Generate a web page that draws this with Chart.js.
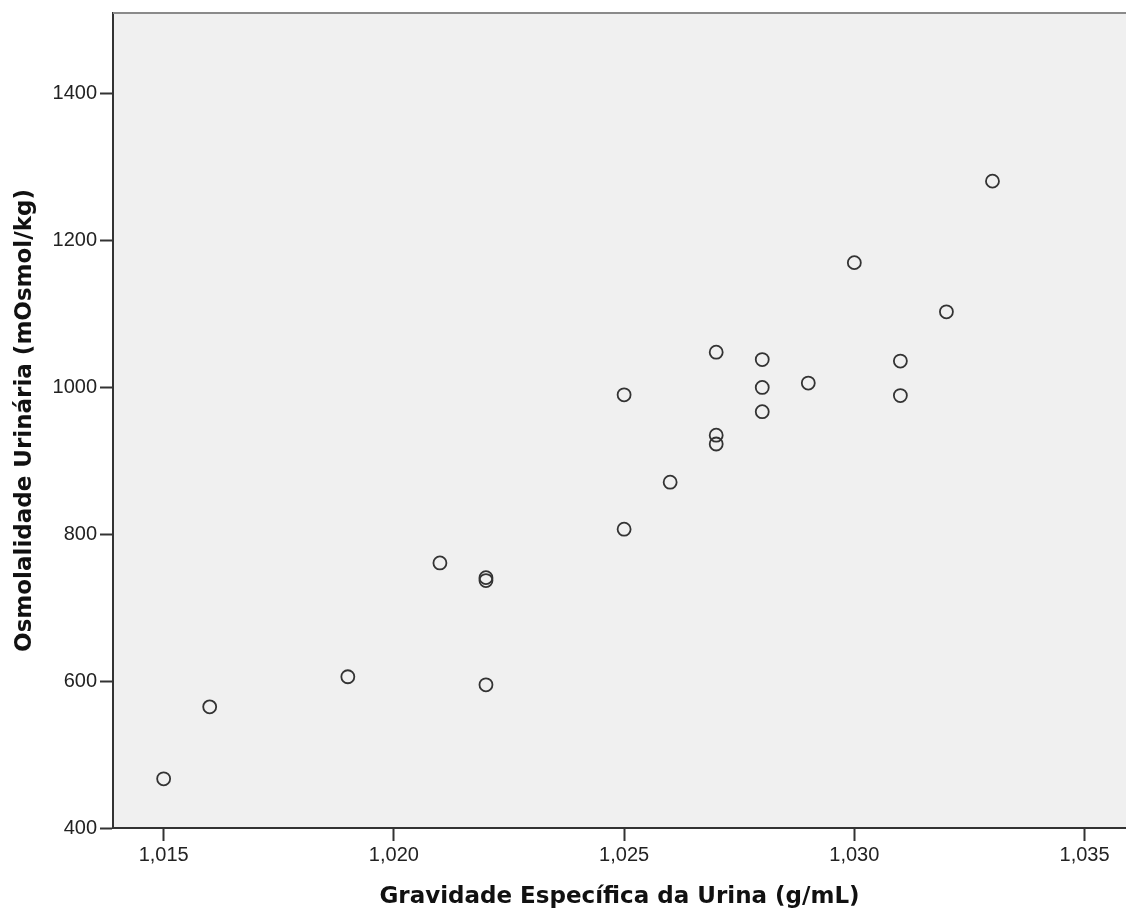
<!DOCTYPE html>
<html>
<head>
<meta charset="utf-8">
<script src="https://cdn.jsdelivr.net/npm/chart.js@4.4.1/dist/chart.umd.min.js"></script>
<style>
  html, body { margin: 0; padding: 0; background: #fff; overflow: hidden; }
  #wrap { width: 1126px; height: 913px; }
  canvas { display: block; }
</style>
</head>
<body>
<div id="wrap"><canvas id="chart" width="1126" height="913"></canvas></div>
<script>
// Urine specific gravity (x) vs urine osmolality (y)
const gravidade = [
  1.015, 1.016, 1.019, 1.021, 1.022, 1.022, 1.022, 1.025, 1.025, 1.026,
  1.027, 1.027, 1.027, 1.028, 1.028, 1.028, 1.029, 1.030, 1.031, 1.031,
  1.032, 1.033,
];
const osmolalidade = [
  467, 565, 606, 761, 741, 737, 595, 990, 807, 871,
  1048, 935, 923, 1038, 1000, 967, 1006, 1170, 1036, 989,
  1103, 1281,
];
const xTicks = [1.015, 1.02, 1.025, 1.03, 1.035];
const yTicks = [400, 600, 800, 1000, 1200, 1400];

const points = gravidade.map((g, i) => ({ x: g, y: osmolalidade[i] }));

const plotBackground = {
  id: "plotBackground",
  beforeDraw(chart) {
    const { ctx, chartArea: a } = chart;
    ctx.save();
    ctx.fillStyle = "#f0f0f0";
    ctx.fillRect(a.left, a.top, a.right - a.left, a.bottom - a.top);
    ctx.restore();
  },
  afterDraw(chart) {
    // gray top frame line
    const { ctx, chartArea: a } = chart;
    ctx.save();
    ctx.strokeStyle = "#8a8a8a";
    ctx.lineWidth = 2;
    ctx.beginPath();
    ctx.moveTo(a.left, a.top);
    ctx.lineTo(a.right, a.top);
    ctx.stroke();
    ctx.restore();
  },
};

const tickFont = { family: "'Liberation Sans', Arial", size: 20 };
const titleFont = { family: "'DejaVu Sans', Verdana", size: 23, weight: "bold" };

new Chart(document.getElementById("chart"), {
  type: "scatter",
  data: {
    datasets: [
      {
        data: points,
        pointRadius: 6.5,
        pointHoverRadius: 6.5,
        pointBorderWidth: 1.8,
        pointBorderColor: "#333",
        pointBackgroundColor: "rgba(0,0,0,0)",
      },
    ],
  },
  options: {
    responsive: false,
    animation: false,
    // plot area runs to the right edge like the original
    layout: { autoPadding: false, padding: { top: 13, right: 0, left: 0, bottom: 0 } },
    plugins: {
      legend: { display: false },
      tooltip: { enabled: false },
    },
    scales: {
      x: {
        type: "linear",
        min: 1.0139,
        max: 1.0359,
        afterBuildTicks(scale) {
          scale.ticks = xTicks.map((v) => ({ value: v }));
        },
        afterFit(scale) {
          scale.height = 85;
          scale.paddingLeft = 0;
          scale.paddingRight = 0;
        },
        ticks: {
          color: "#222",
          font: tickFont,
          padding: 2,
          maxRotation: 0,
          autoSkip: false,
          callback: (v) => v.toFixed(3).replace(".", ","),
        },
        grid: {
          drawOnChartArea: false,
          drawTicks: true,
          tickLength: 13,
          tickWidth: 2,
          color: "#333",
        },
        border: { display: true, color: "#333", width: 2 },
        title: {
          display: true,
          text: "Gravidade Específica da Urina (g/mL)",
          color: "#111",
          font: titleFont,
          padding: { top: 0, bottom: 2 },
        },
      },
      y: {
        type: "linear",
        min: 400,
        max: 1510,
        afterBuildTicks(scale) {
          scale.ticks = yTicks.map((v) => ({ value: v }));
        },
        afterFit(scale) {
          scale.width = 113;
          scale.paddingTop = 0;
          scale.paddingBottom = 0;
        },
        ticks: {
          color: "#222",
          font: tickFont,
          padding: 3,
          autoSkip: false,
          callback: (v) => String(v),
        },
        grid: {
          drawOnChartArea: false,
          drawTicks: true,
          tickLength: 13,
          tickWidth: 2,
          color: "#333",
        },
        border: { display: true, color: "#333", width: 2 },
        title: {
          display: true,
          text: "Osmolalidade Urinária (mOsmol/kg)",
          color: "#111",
          font: titleFont,
          padding: { top: 11, bottom: 0 },
        },
      },
    },
  },
  plugins: [plotBackground],
});
</script>
</body>
</html>
